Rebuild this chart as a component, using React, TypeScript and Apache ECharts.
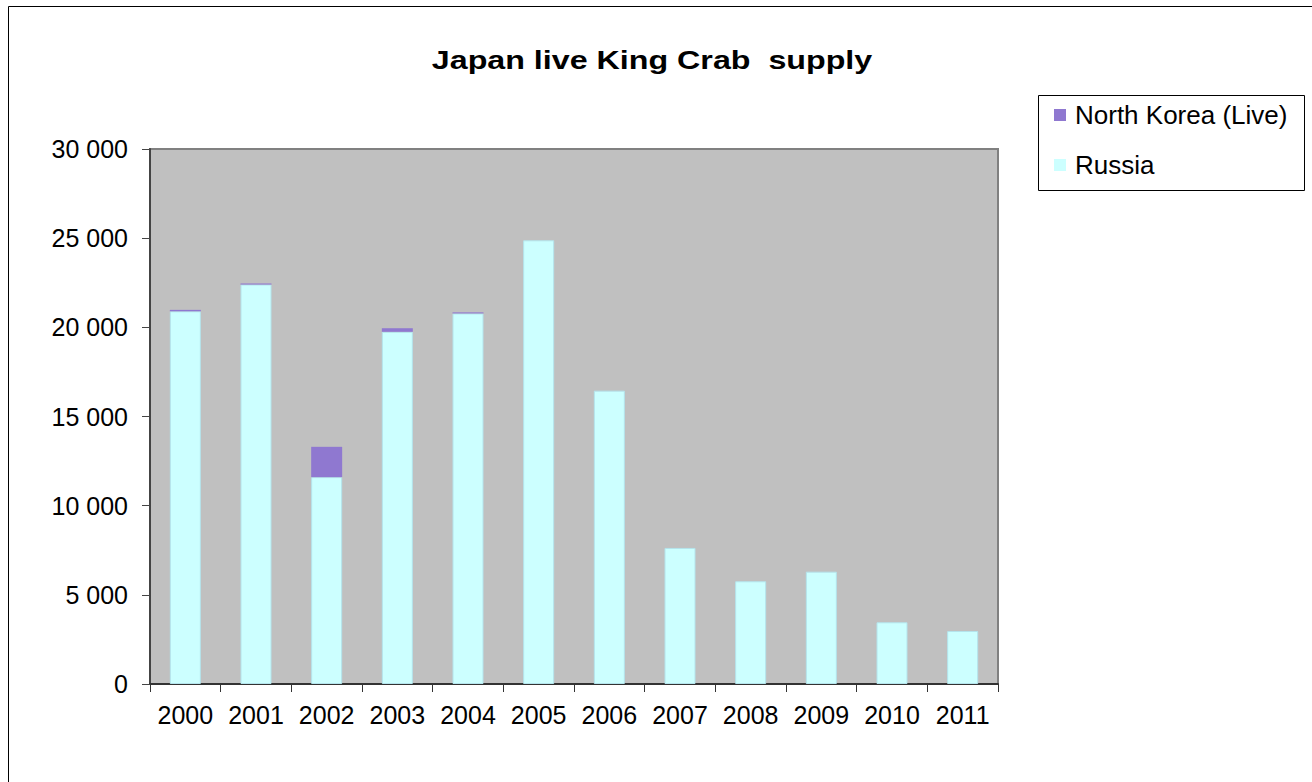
import React, { useEffect, useRef } from "react";
import * as echarts from "echarts";

const years = ["2000", "2001", "2002", "2003", "2004", "2005", "2006", "2007", "2008", "2009", "2010", "2011"];
const russia = [20900, 22400, 11600, 19750, 20780, 24880, 16450, 7630, 5760, 6300, 3460, 2970];
const northKorea = [80, 60, 1700, 200, 60, 0, 0, 0, 0, 0, 0, 0];
const yTicks = { min: 0, max: 30000, interval: 5000 };
const titleText = "Japan live King Crab  supply";

const fmt = (v: number) => {
  const s = String(Math.round(v));
  return s.replace(/\B(?=(\d{3})+(?!\d))/g, " ");
};

export default function App() {
  const ref = useRef<HTMLDivElement>(null);
  useEffect(() => {
    if (!ref.current) return;
    const chart = echarts.init(ref.current, undefined, { renderer: "svg" });
    const font = "Liberation Sans, Arial, sans-serif";
    chart.setOption({
      animation: false,
      backgroundColor: "#ffffff",
      legend: {
        orient: "vertical",
        left: 1054,
        top: 102,
        padding: 0,
        itemGap: 24,
        itemWidth: 12,
        itemHeight: 12,
        icon: "rect",
        data: ["North Korea (Live)", "Russia"],
        itemStyle: { borderWidth: 0 },
        textStyle: { fontFamily: font, fontSize: 26, color: "#000", padding: [0, 0, 0, 4] },
      },
      graphic: [
        {
          type: "rect",
          shape: { x: 8.5, y: 6.5, width: 1400, height: 800 },
          style: { fill: "none", stroke: "#000", lineWidth: 1 },
          silent: true,
        },
        {
          type: "rect",
          shape: { x: 1038.5, y: 95.5, width: 266, height: 95 },
          style: { fill: "none", stroke: "#000", lineWidth: 1 },
          silent: true,
        },
        {
          type: "text",
          x: 652,
          y: 60,
          scaleX: 1.24,
          style: {
            text: titleText,
            fontFamily: font,
            fontSize: 26,
            fontWeight: "bold",
            fill: "#000",
            align: "center",
            verticalAlign: "middle",
          },
          silent: true,
        },
      ],
      grid: {
        left: 150,
        right: 314,
        top: 149,
        bottom: 98,
        show: true,
        backgroundColor: "#C0C0C0",
        borderColor: "#808080",
        borderWidth: 2,
      },
      xAxis: {
        type: "category",
        data: years,
        boundaryGap: true,
        axisLine: { show: true, lineStyle: { color: "#333", width: 2 } },
        axisTick: { show: true, interval: 0, alignWithLabel: false, length: 8, lineStyle: { color: "#333", width: 1 } },
        axisLabel: { interval: 0, fontFamily: font, fontSize: 25, color: "#000", margin: 18 },
        splitLine: { show: false },
      },
      yAxis: {
        type: "value",
        min: yTicks.min,
        max: yTicks.max,
        interval: yTicks.interval,
        axisLine: { show: true, lineStyle: { color: "#444", width: 2 } },
        axisTick: { show: true, length: 8, lineStyle: { color: "#444", width: 1 } },
        axisLabel: { fontFamily: font, fontSize: 25, color: "#000", margin: 22, formatter: (v: number) => fmt(v) },
        splitLine: { show: false },
      },
      series: [
        {
          name: "Russia",
          type: "bar",
          stack: "total",
          barWidth: 31,
          data: russia,
          itemStyle: { color: "#CCFFFF", borderColor: "#b4e4ec", borderWidth: 1 },
        },
        {
          name: "North Korea (Live)",
          type: "bar",
          stack: "total",
          barWidth: 31,
          data: northKorea,
          itemStyle: { color: "#8F78D0", borderWidth: 0 },
        },
      ],
    });
    return () => chart.dispose();
  }, []);
  return <div ref={ref} style={{ position: "absolute", left: 0, top: 0, width: 1312, height: 782 }} />;
}
